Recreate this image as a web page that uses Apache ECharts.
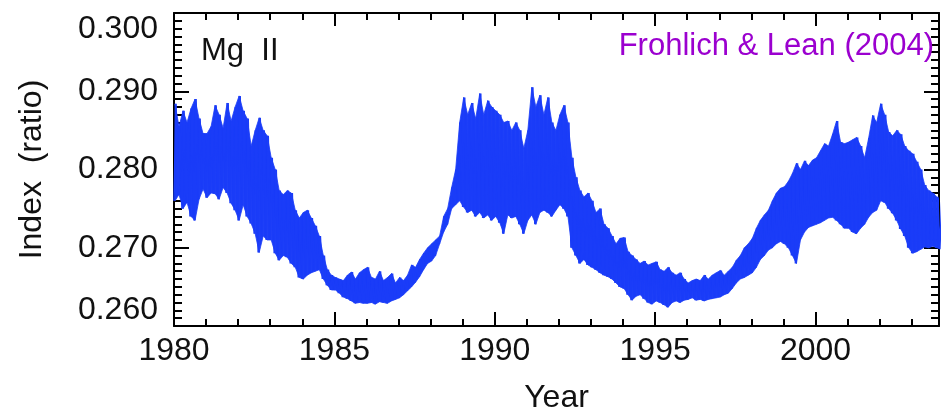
<!DOCTYPE html>
<html>
<head>
<meta charset="utf-8">
<script src="https://cdn.jsdelivr.net/npm/echarts@6/dist/echarts.min.js"></script>
<style>
html,body{margin:0;padding:0;background:#fff;}
#chart{width:941px;height:411px;}
</style>
</head>
<body>
<div id="chart"></div>
<script>
// Sampling: first sample year and step (years) of the envelope arrays below
const startYear = 1980;
const stepYears = 1 / 8;

// Upper envelope of the Mg II index (one row per year, 8 samples per year)
const mgHigh = [
  0.2884, 0.2855, 0.2875, 0.2860, 0.2878, 0.2890, 0.2865, 0.2846,
  0.2846, 0.2855, 0.2882, 0.2870, 0.2853, 0.2885, 0.2862, 0.2880,
  0.2894, 0.2875, 0.2865, 0.2830, 0.2850, 0.2866, 0.2850, 0.2843,
  0.2815, 0.2800, 0.2773, 0.2768, 0.2773, 0.2770, 0.2748, 0.2738,
  0.2745, 0.2748, 0.2738, 0.2728, 0.2715, 0.2690, 0.2672, 0.2665,
  0.2662, 0.2660, 0.2658, 0.2665, 0.2669, 0.2660, 0.2668, 0.2672,
  0.2675, 0.2662, 0.2660, 0.2670, 0.2658, 0.2662, 0.2667, 0.2655,
  0.2662, 0.2658, 0.2665, 0.2678, 0.2675, 0.2685, 0.2693, 0.2700,
  0.2705, 0.2710, 0.2715, 0.2740, 0.2750, 0.2777, 0.2800, 0.2860,
  0.2892, 0.2870, 0.2885, 0.2865, 0.2897, 0.2870, 0.2888, 0.2880,
  0.2875, 0.2870, 0.2860, 0.2862, 0.2850, 0.2860, 0.2850, 0.2827,
  0.2850, 0.2905, 0.2880, 0.2895, 0.2870, 0.2892, 0.2860, 0.2850,
  0.2870, 0.2882, 0.2860, 0.2815, 0.2790, 0.2773, 0.2765, 0.2770,
  0.2760, 0.2745, 0.2750, 0.2730, 0.2725, 0.2715, 0.2705, 0.2712,
  0.2713, 0.2695, 0.2690, 0.2685, 0.2680, 0.2683, 0.2678, 0.2680,
  0.2682, 0.2672, 0.2670, 0.2675, 0.2668, 0.2665, 0.2668, 0.2660,
  0.2655, 0.2658, 0.2660, 0.2658, 0.2665, 0.2660, 0.2665, 0.2668,
  0.2671, 0.2665, 0.2670, 0.2675, 0.2684, 0.2690, 0.2700, 0.2705,
  0.2712, 0.2725, 0.2735, 0.2742, 0.2748, 0.2760, 0.2770, 0.2776,
  0.2778, 0.2785, 0.2795, 0.2808, 0.2800, 0.2811, 0.2805, 0.2812,
  0.2815, 0.2824, 0.2833, 0.2830, 0.2845, 0.2862, 0.2835, 0.2833,
  0.2835, 0.2838, 0.2841, 0.2830, 0.2815, 0.2840, 0.2869, 0.2860,
  0.2884, 0.2870, 0.2848, 0.2843, 0.2850, 0.2845, 0.2830, 0.2824,
  0.2820, 0.2810, 0.2800, 0.2780, 0.2773, 0.2770, 0.2765, 0.2760
];

// Lower envelope of the Mg II index (same sampling)
const mgLow = [
  0.2760, 0.2768, 0.2750, 0.2758, 0.2740, 0.2735, 0.2762, 0.2775,
  0.2764, 0.2770, 0.2769, 0.2762, 0.2777, 0.2770, 0.2757, 0.2748,
  0.2735, 0.2755, 0.2740, 0.2731, 0.2718, 0.2694, 0.2715, 0.2710,
  0.2710, 0.2693, 0.2684, 0.2690, 0.2688, 0.2680, 0.2675, 0.2662,
  0.2660, 0.2665, 0.2668, 0.2670, 0.2672, 0.2660, 0.2652, 0.2646,
  0.2646, 0.2642, 0.2637, 0.2635, 0.2632, 0.2629, 0.2630, 0.2629,
  0.2629, 0.2630, 0.2628, 0.2631, 0.2630, 0.2629, 0.2632, 0.2634,
  0.2636, 0.2640, 0.2645, 0.2650, 0.2656, 0.2663, 0.2672, 0.2680,
  0.2683, 0.2690, 0.2705, 0.2720, 0.2730, 0.2750, 0.2755, 0.2760,
  0.2752, 0.2745, 0.2748, 0.2740, 0.2745, 0.2738, 0.2742, 0.2735,
  0.2740, 0.2732, 0.2718, 0.2742, 0.2738, 0.2740, 0.2730, 0.2718,
  0.2735, 0.2742, 0.2730, 0.2745, 0.2748, 0.2745, 0.2740, 0.2748,
  0.2755, 0.2750, 0.2740, 0.2700, 0.2690, 0.2680, 0.2685, 0.2678,
  0.2675, 0.2672, 0.2668, 0.2665, 0.2663, 0.2660, 0.2655, 0.2650,
  0.2648, 0.2640, 0.2633, 0.2638, 0.2640, 0.2635, 0.2630, 0.2628,
  0.2632, 0.2630, 0.2627, 0.2624, 0.2630, 0.2632, 0.2630, 0.2633,
  0.2634, 0.2636, 0.2633, 0.2634, 0.2632, 0.2634, 0.2635, 0.2636,
  0.2637, 0.2640, 0.2642, 0.2648, 0.2655, 0.2660, 0.2662, 0.2665,
  0.2668, 0.2675, 0.2685, 0.2690, 0.2697, 0.2700, 0.2705, 0.2708,
  0.2705, 0.2700, 0.2690, 0.2680, 0.2710, 0.2720, 0.2726, 0.2728,
  0.2730, 0.2732, 0.2735, 0.2738, 0.2739, 0.2735, 0.2730, 0.2725,
  0.2725, 0.2720, 0.2718, 0.2725, 0.2730, 0.2739, 0.2745, 0.2748,
  0.2760, 0.2758, 0.2750, 0.2744, 0.2735, 0.2724, 0.2715, 0.2700,
  0.2693, 0.2695, 0.2698, 0.2701, 0.2700, 0.2702, 0.2700, 0.2698
];

// Axis ranges and tick labels
const xMin = 1980, xMax = 2003.85;
const yearLabels = [1980, 1985, 1990, 1995, 2000];
const minorYears = [1981,1982,1983,1984,1986,1987,1988,1989,1991,1992,1993,1994,1996,1997,1998,1999,2001,2002,2003];
const yMin = 0.26, yMax = 0.30, yStep = 0.01;

const seriesName = 'Mg II';
const sourceText = 'Frohlich & Lean (2004)';
const xTitle = 'Year';
const yTitle = 'Index  (ratio)';

// Zig-zag daily-like trace and envelope band rows built from the arrays
const trace = [];
const band = [];
for (let i = 0; i < mgHigh.length; i++) {
  const t = startYear + i * stepYears;
  trace.push([t, mgLow[i]]);
  trace.push([t + stepYears / 2, mgHigh[i]]);
  band.push([t + stepYears / 4, mgLow[i], mgHigh[i]]);
}

const FONT = "'Liberation Sans', Arial, Helvetica, sans-serif";
const BLACK = '#000';
const BLUE = '#1a3cf8';
const lineStyle = { color: BLACK, width: 2 };

const chart = echarts.init(document.getElementById('chart'), null, { renderer: 'canvas' });

function xAx(pos, ticks, len, withLine, withLabel) {
  const a = {
    type: 'value', position: pos, min: xMin, max: xMax,
    axisLine: { show: withLine, onZero: false, lineStyle: lineStyle },
    axisTick: { show: true, inside: true, length: len, lineStyle: { color: BLACK, width: 2 }, customValues: ticks },
    axisLabel: { show: false },
    splitLine: { show: false }
  };
  if (withLabel) {
    a.axisLabel = { show: true, customValues: yearLabels, formatter: v => String(Math.round(v)),
      fontFamily: FONT, fontSize: 32, color: '#111', margin: 9 };
    a.name = xTitle;
    a.nameLocation = 'middle';
    a.nameGap = 56;
    a.nameTextStyle = { fontFamily: FONT, fontSize: 32, color: '#111' };
  }
  return a;
}

function yAx(pos, withLabel) {
  const a = {
    type: 'value', position: pos, min: yMin, max: yMax, interval: yStep,
    axisLine: { show: true, onZero: false, lineStyle: lineStyle },
    axisTick: { show: true, inside: true, length: 15, lineStyle: { color: BLACK, width: 2 } },
    minorTick: { show: true, splitNumber: 10, length: 8, lineStyle: { color: BLACK, width: 2 } },
    axisLabel: { show: false },
    splitLine: { show: false },
    minorSplitLine: { show: false }
  };
  if (withLabel) {
    a.axisLabel = {
      show: true, fontFamily: FONT, fontSize: 32, color: '#111', margin: 16,
      formatter: v => v.toFixed(3),
      verticalAlignMinLabel: 'bottom', verticalAlignMaxLabel: 'top'
    };
    a.name = yTitle;
    a.nameLocation = 'middle';
    a.nameGap = 126;
    a.nameTextStyle = { fontFamily: FONT, fontSize: 32, color: '#111' };
  }
  return a;
}

function renderBand(params, api) {
  const i = params.dataIndexInside;
  if (i + 1 >= params.dataInsideLength) return null;
  const p0l = api.coord([api.value(0, i), api.value(1, i)]);
  const p0h = api.coord([api.value(0, i), api.value(2, i)]);
  const p1h = api.coord([api.value(0, i + 1), api.value(2, i + 1)]);
  const p1l = api.coord([api.value(0, i + 1), api.value(1, i + 1)]);
  return {
    type: 'polygon',
    shape: { points: [p0l, p0h, p1h, p1l] },
    style: { fill: BLUE, stroke: BLUE, lineWidth: 0.8 },
    silent: true
  };
}

const option = {
  animation: false,
  backgroundColor: '#fff',
  grid: { left: 174, right: 2, top: 13, bottom: 85, containLabel: false, outerBoundsMode: 'none' },
  xAxis: [
    xAx('bottom', yearLabels, 14, true, true),
    xAx('bottom', minorYears, 7, false, false),
    xAx('top', yearLabels, 13, true, false),
    xAx('top', minorYears, 7, false, false)
  ],
  yAxis: [yAx('left', true), yAx('right', false)],
  series: [
    {
      name: 'envelope', type: 'custom', data: band, renderItem: renderBand,
      encode: { x: 0, y: [1, 2] }, clip: true, z: 1, silent: true
    },
    {
      name: seriesName, type: 'line', data: trace,
      symbol: 'none', clip: true,
      lineStyle: { color: BLUE, width: 1.6 }, z: 2
    }
  ],
  graphic: [
    { type: 'text', z: 10, style: { x: 201, y: 51, text: seriesName.replace(' ', '  '), font: '31px ' + FONT, fill: '#111', verticalAlign: 'middle', align: 'left' } },
    { type: 'text', z: 10, style: { x: 934, y: 46, text: sourceText, font: '31px ' + FONT, fill: '#9b00cf', verticalAlign: 'middle', align: 'right' } }
  ]
};
chart.setOption(option);
</script>
</body>
</html>
